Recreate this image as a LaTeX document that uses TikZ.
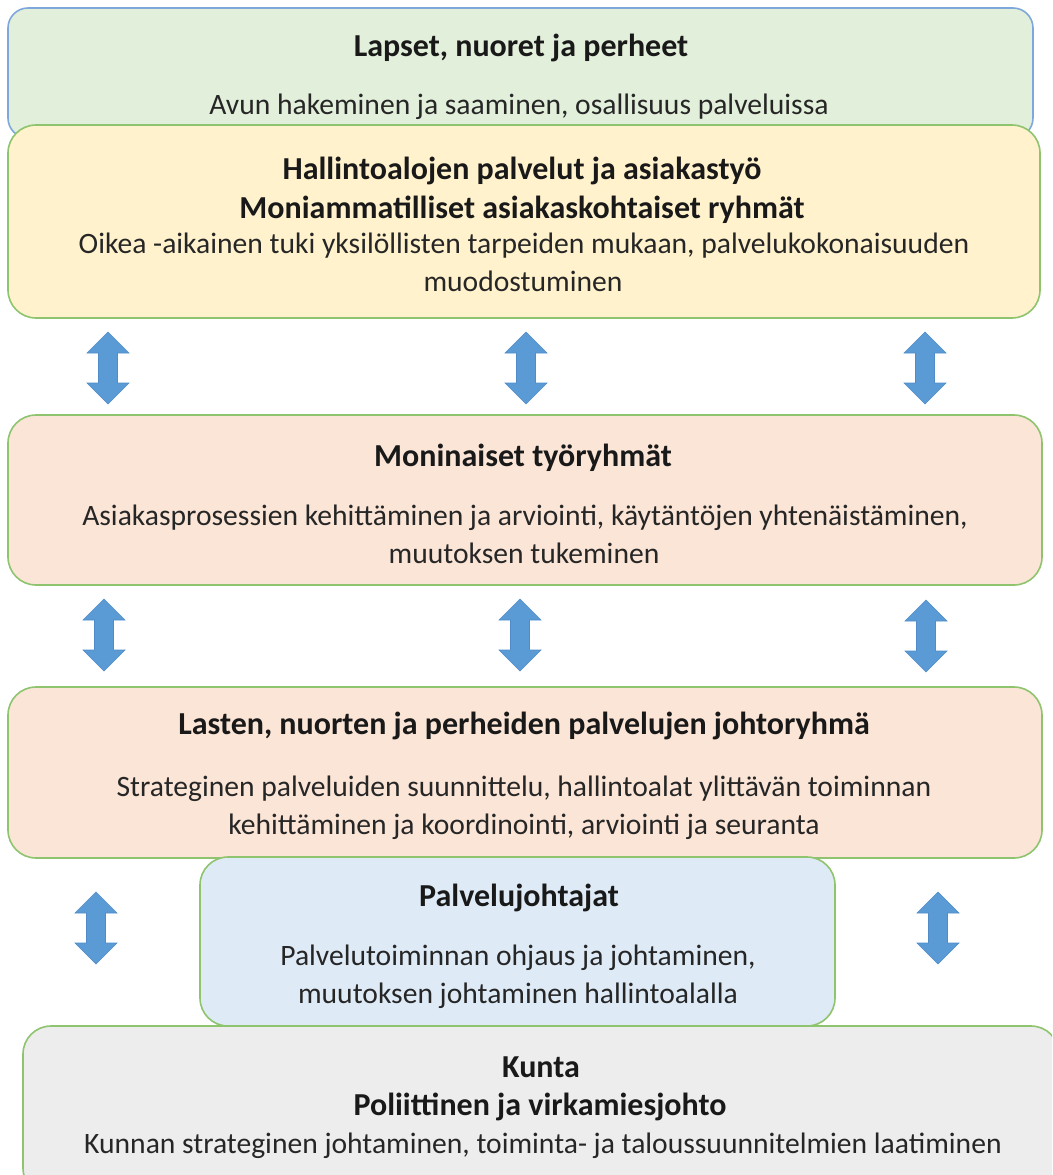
\documentclass[tikz,border=0pt]{standalone}
\usepackage{fontspec}
\setmainfont{Carlito}
\definecolor{boxgreen}{HTML}{8FC46F}
\definecolor{boxblue}{HTML}{7EA8DC}
\definecolor{fillgreen}{HTML}{E2EFDA}
\definecolor{fillyellow}{HTML}{FFF2CC}
\definecolor{fillpink}{HTML}{FBE5D6}
\definecolor{fillblue}{HTML}{DEEBF7}
\definecolor{fillgray}{HTML}{EDEDED}
\definecolor{arrblue}{HTML}{5B9BD5}
\definecolor{arredge}{HTML}{4F8CC9}
\newcommand\updownarr[3]{%
  \coordinate (#1) at (#2,#3);
  \filldraw[arr] (#1) ++(0,-36) -- ++(21,21) -- ++(-11.5,0) -- ++(0,30) -- ++(11.5,0)
    -- ++(-21,21) -- ++(-21,-21) -- ++(11.5,0) -- ++(0,-30) -- ++(-11.5,0) -- cycle;}
\begin{document}
\begin{tikzpicture}[x=1pt,y=-1pt,
  box/.style={draw=boxgreen, line width=1.6pt, rounded corners=28pt, anchor=north west, inner sep=0pt, outer sep=0pt},
  ttl/.style={font=\fontsize{32}{38}\selectfont\bfseries, anchor=base, inner sep=0pt, text=black!90},
  txt/.style={font=\fontsize{29.6}{36}\selectfont, anchor=base, inner sep=0pt, text=black!85},
  arr/.style={fill=arrblue, draw=arredge, line width=0.6pt}]
\useasboundingbox (0,0) rectangle (1052,1175);
\clip (0,0) rectangle (1052,1175);
\fill[white] (0,0) rectangle (1052,1175);

% boxes
\node[box, draw=boxblue, fill=fillgreen, rounded corners=20pt, minimum width=1025pt, minimum height=130pt] (b1) at (8,8) {};
\node[box, fill=fillyellow, minimum width=1032pt, minimum height=193pt] (b2) at (8,125) {};
\node[box, fill=fillpink, minimum width=1034pt, minimum height=170pt] (b3) at (8,415) {};
\node[box, fill=fillpink, minimum width=1034pt, minimum height=171pt] (b4) at (8,687) {};
\node[box, fill=fillblue, minimum width=635pt, minimum height=169pt] (b5) at (200,857) {};
\node[box, fill=fillgray, minimum width=1036pt, minimum height=170pt] (b6) at (23,1026) {};

% texts
\node[ttl] (t1a) at (521,56) {Lapset, nuoret ja perheet};
\node[txt] (t1b) at (519,114) {Avun hakeminen ja saaminen, osallisuus palveluissa};

\node[ttl] (t2a) at (522,179) {Hallintoalojen palvelut ja asiakastyö};
\node[ttl] (t2b) at (522,218) {Moniammatilliset asiakaskohtaiset ryhmät};
\node[txt] (t2c) at (524,253) {Oikea -aikainen tuki yksilöllisten tarpeiden mukaan, palvelukokonaisuuden};
\node[txt] (t2d) at (523,291) {muodostuminen};

\node[ttl] (t3a) at (523,466) {Moninaiset työryhmät};
\node[txt] (t3b) at (525,525) {Asiakasprosessien kehittäminen ja arviointi, käytäntöjen yhtenäistäminen,};
\node[txt] (t3c) at (524,563) {muutoksen tukeminen};

\node[ttl] (t4a) at (524,734) {Lasten, nuorten ja perheiden palvelujen johtoryhmä};
\node[txt] (t4b) at (524,796) {Strateginen palveluiden suunnittelu, hallintoalat ylittävän toiminnan};
\node[txt] (t4c) at (524,834) {kehittäminen ja koordinointi, arviointi ja seuranta};

\node[ttl] (t5a) at (519,906) {Palvelujohtajat};
\node[txt] (t5b) at (518,965) {Palvelutoiminnan ohjaus ja johtaminen,};
\node[txt] (t5c) at (518,1003) {muutoksen johtaminen hallintoalalla};

\node[ttl] (t6a) at (541,1077) {Kunta};
\node[ttl] (t6b) at (540,1115) {Poliittinen ja virkamiesjohto};
\node[txt] (t6c) at (543,1153) {Kunnan strateginen johtaminen, toiminta- ja taloussuunnitelmien laatiminen};

% arrows
\updownarr{a11}{108}{368}
\updownarr{a12}{526}{368}
\updownarr{a13}{925}{368}
\updownarr{a21}{104}{635}
\updownarr{a22}{520}{635}
\updownarr{a23}{926}{636}
\updownarr{a31}{96}{928}
\updownarr{a32}{938}{928}
\end{tikzpicture}
\end{document}
